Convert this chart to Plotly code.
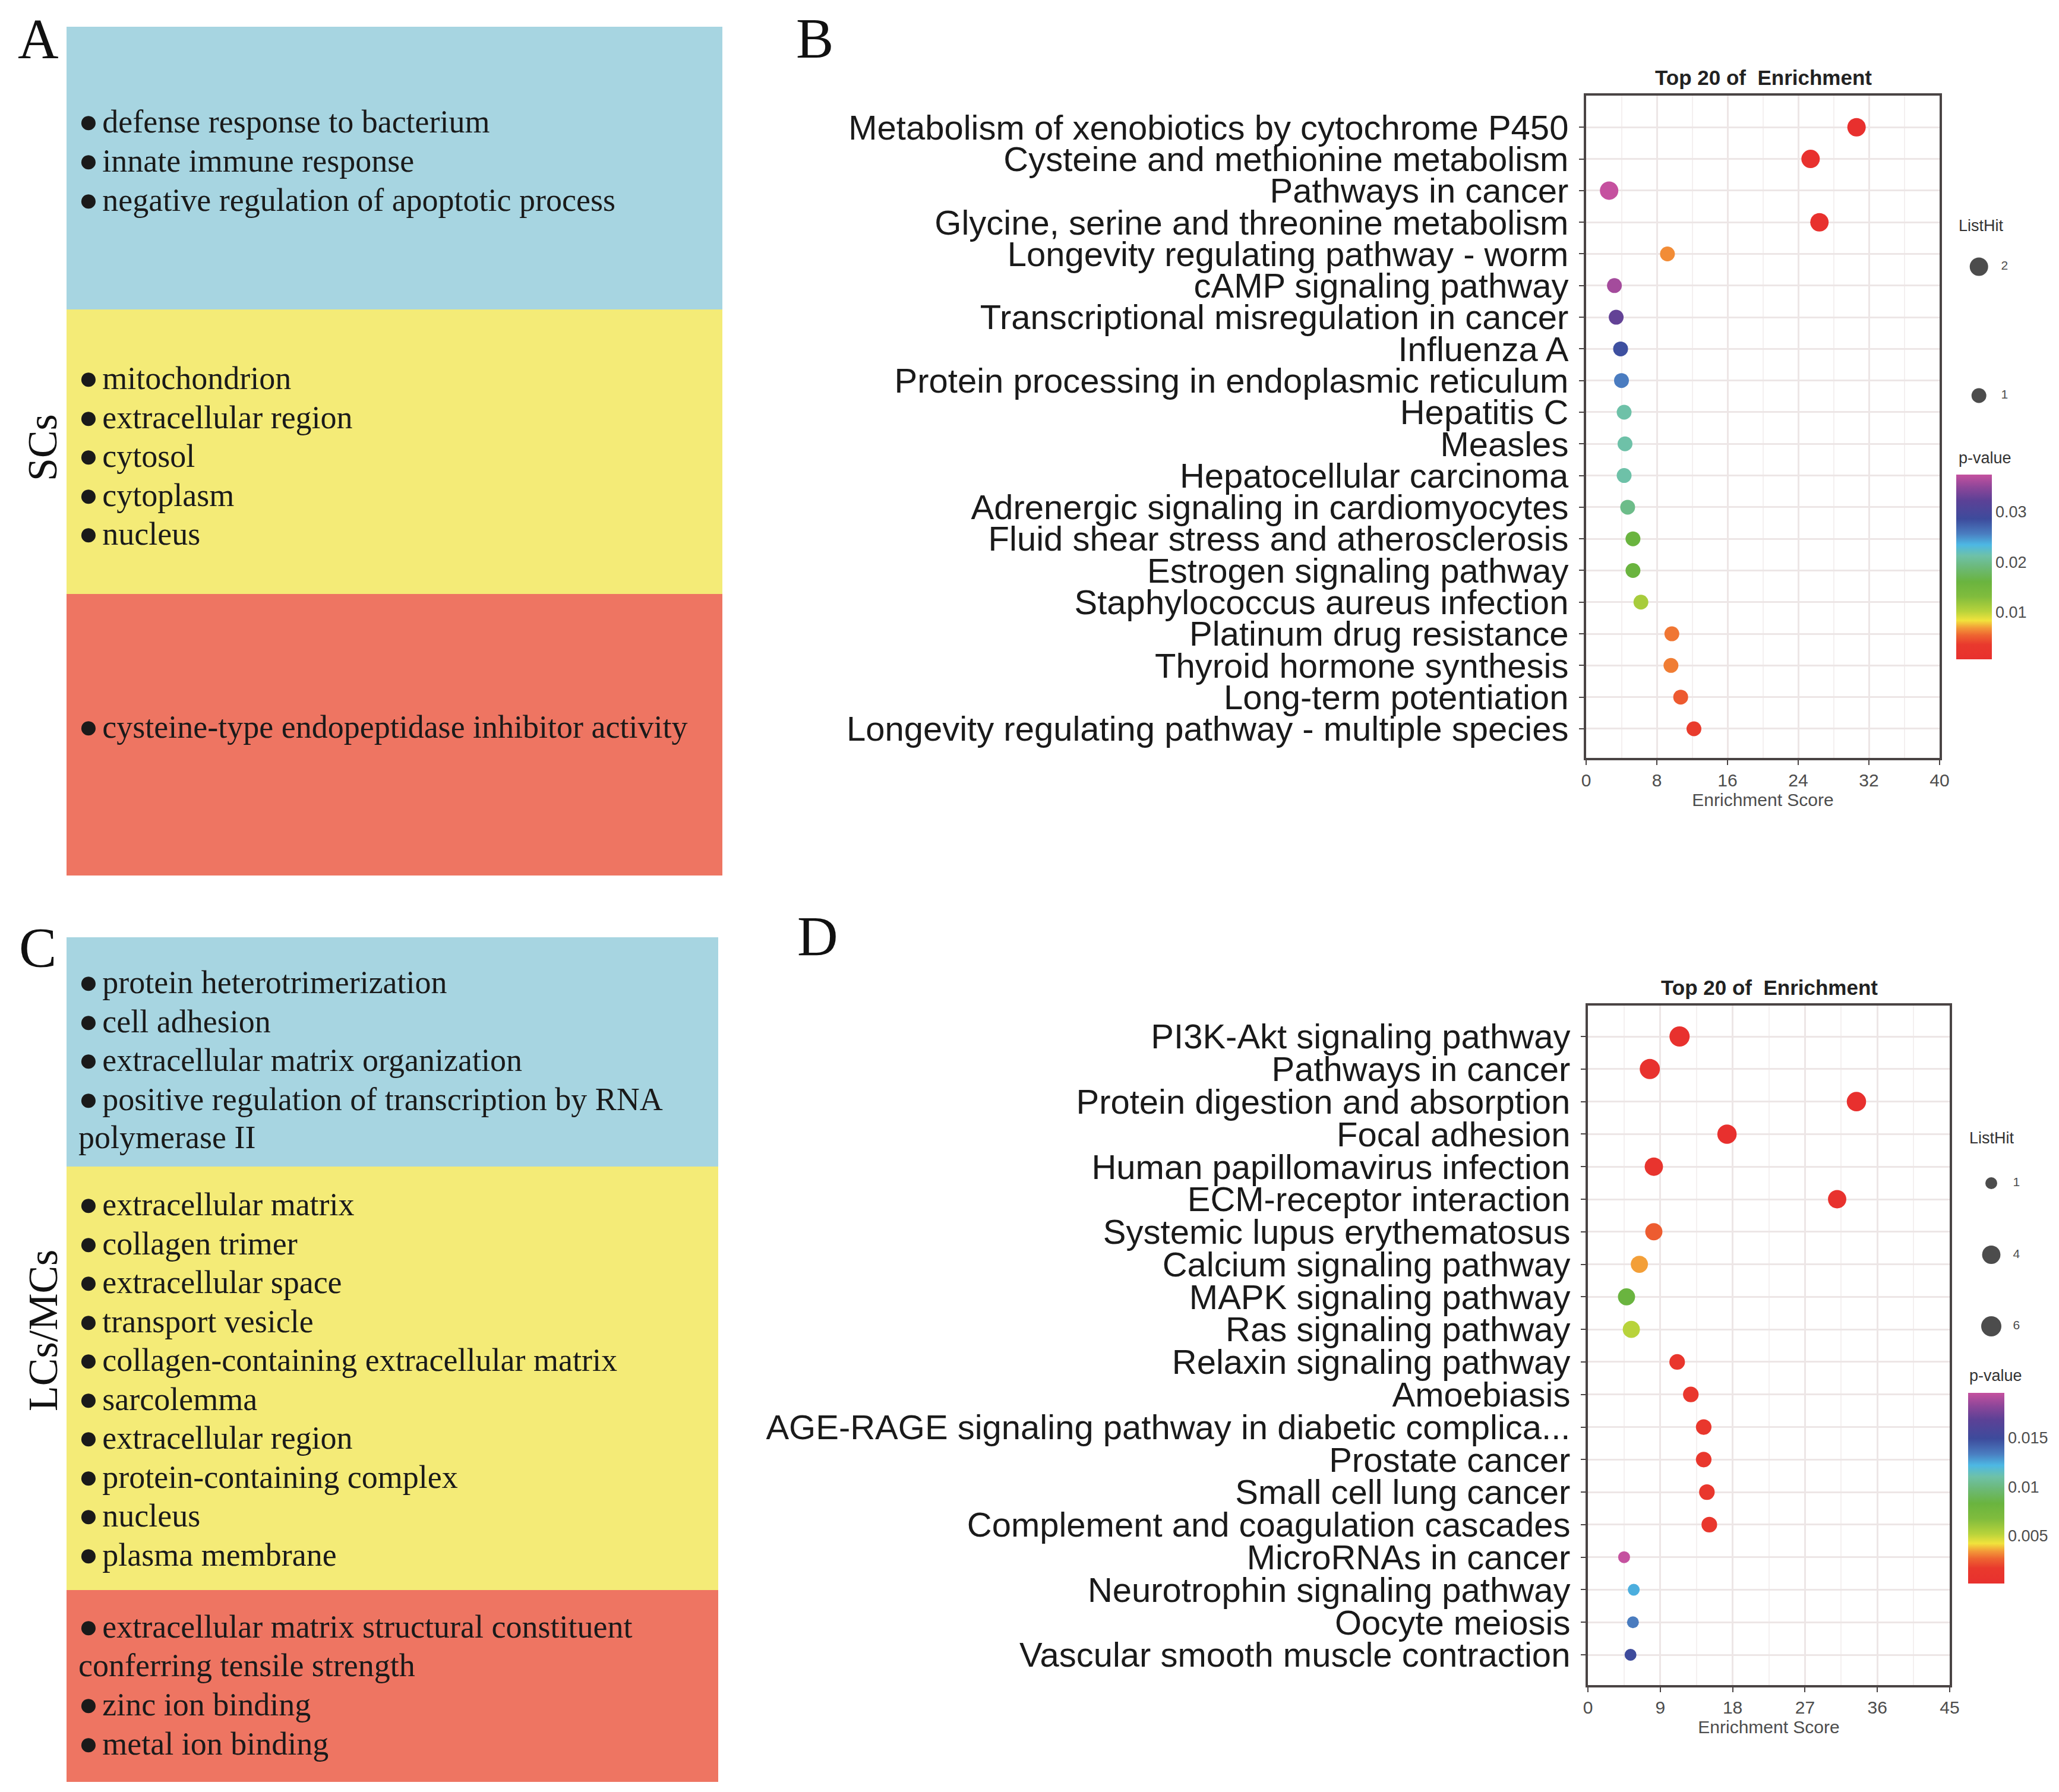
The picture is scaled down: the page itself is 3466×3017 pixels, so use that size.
import plotly.graph_objects as go

W, H = 3466, 3017

# ---------------- DATA ----------------
# Panel A (SCs) GO terms
A_bp = ["defense response to bacterium", "innate immune response",
        "negative regulation of apoptotic process"]
A_cc = ["mitochondrion", "extracellular region", "cytosol", "cytoplasm", "nucleus"]
A_mf = ["cysteine-type endopeptidase inhibitor activity"]

# Panel C (LCs/MCs) GO terms
C_bp = ["protein heterotrimerization", "cell adhesion",
        "extracellular matrix organization",
        "positive regulation of transcription by RNA<br>polymerase II"]
C_cc = ["extracellular matrix", "collagen trimer", "extracellular space",
        "transport vesicle", "collagen-containing extracellular matrix",
        "sarcolemma", "extracellular region", "protein-containing complex",
        "nucleus", "plasma membrane"]
C_mf = ["extracellular matrix structural constituent<br>conferring tensile strength",
        "zinc ion binding", "metal ion binding"]

# Panel B (SCs KEGG)
B_terms = ["Metabolism of xenobiotics by cytochrome P450",
           "Cysteine and methionine metabolism",
           "Pathways in cancer",
           "Glycine, serine and threonine metabolism",
           "Longevity regulating pathway - worm",
           "cAMP signaling pathway",
           "Transcriptional misregulation in cancer",
           "Influenza A",
           "Protein processing in endoplasmic reticulum",
           "Hepatitis C",
           "Measles",
           "Hepatocellular carcinoma",
           "Adrenergic signaling in cardiomyocytes",
           "Fluid shear stress and atherosclerosis",
           "Estrogen signaling pathway",
           "Staphylococcus aureus infection",
           "Platinum drug resistance",
           "Thyroid hormone synthesis",
           "Long-term potentiation",
           "Longevity regulating pathway - multiple species"]
B_score = [30.6, 25.4, 2.6, 26.4, 9.2, 3.2, 3.4, 3.9, 4.0, 4.3,
           4.4, 4.3, 4.7, 5.3, 5.3, 6.2, 9.7, 9.6, 10.7, 12.2]
B_hit = [2, 2, 2, 2, 1, 1, 1, 1, 1, 1, 1, 1, 1, 1, 1, 1, 1, 1, 1, 1]
B_p = [0.0005, 0.0009, 0.0375, 0.0008, 0.0064, 0.0360, 0.0327, 0.0283,
       0.0257, 0.0212, 0.0212, 0.0212, 0.0197, 0.0160, 0.0160, 0.0110,
       0.0058, 0.0060, 0.0049, 0.0036]
B_ticks = [0, 8, 16, 24, 32, 40]
B_cbar_ticks = [0.01, 0.02, 0.03]
B_hit_legend = [2, 1]

# Panel D (LCs/MCs KEGG)
D_terms = ["PI3K-Akt signaling pathway",
           "Pathways in cancer",
           "Protein digestion and absorption",
           "Focal adhesion",
           "Human papillomavirus infection",
           "ECM-receptor interaction",
           "Systemic lupus erythematosus",
           "Calcium signaling pathway",
           "MAPK signaling pathway",
           "Ras signaling pathway",
           "Relaxin signaling pathway",
           "Amoebiasis",
           "AGE-RAGE signaling pathway in diabetic complica...",
           "Prostate cancer",
           "Small cell lung cancer",
           "Complement and coagulation cascades",
           "MicroRNAs in cancer",
           "Neurotrophin signaling pathway",
           "Oocyte meiosis",
           "Vascular smooth muscle contraction"]
D_score = [11.4, 7.7, 33.4, 17.3, 8.2, 31.0, 8.2, 6.4, 4.8, 5.4,
           11.1, 12.8, 14.4, 14.4, 14.8, 15.1, 4.5, 5.7, 5.6, 5.3]
D_hit = [6, 6, 5, 5, 4, 4, 3, 3, 3, 3, 2, 2, 2, 2, 2, 2, 1, 1, 1, 1]
D_p = [0.0003, 0.0005, 0.00014, 0.0002, 0.0009, 0.0004, 0.0025, 0.0035,
       0.0083, 0.0052, 0.0012, 0.0013, 0.0013, 0.0013, 0.0014, 0.0014,
       0.0196, 0.0124, 0.0134, 0.0150]
D_ticks = [0, 9, 18, 27, 36, 45]
D_cbar_ticks = [0.005, 0.01, 0.015]
D_hit_legend = [1, 4, 6]

# ---------------- STYLE ----------------
CS = [[0.00, '#E8302E'], [0.08, '#E9392D'], [0.13, '#EE6431'],
      [0.17, '#F39A38'], [0.21, '#F1E33C'], [0.26, '#B8D33B'],
      [0.34, '#80BC3D'], [0.42, '#6AB43F'], [0.50, '#6CB97A'],
      [0.56, '#6EC1A8'], [0.62, '#4DB8E4'], [0.68, '#4A7DC0'],
      [0.76, '#3D4B9C'], [0.86, '#5C4196'], [0.93, '#8C4699'],
      [1.00, '#C5519F']]

BLUE, YELLOW, RED = '#A7D5E1', '#F4EB77', '#EE7562'
GRID, MGRID, AXC = '#EDE6E6', '#F4F0F0', '#4A4444'
LABC, GRAY = '#1A1A1A', '#4D4D4D'
SANS, SERIF = 'Liberation Sans, Arial', 'Liberation Serif, Times New Roman'


def px(x):
    return x / W


def py(y):
    return 1 - y / H


def sizes(vals, dmin, dmax, vmin, vmax):
    out = []
    for v in vals:
        t = 0 if vmax == vmin else (v - vmin) / (vmax - vmin)
        out.append(dmin + (dmax - dmin) * t ** 0.5)
    return out


fig = go.Figure()
shapes, ann = [], []

# ---------------- Panels A & C (boxes + text) ----------------
def box(x0, y0, x1, y1, c):
    shapes.append(dict(type='rect', xref='paper', yref='paper', x0=px(x0), x1=px(x1),
                       y0=py(y1), y1=py(y0), fillcolor=c, line=dict(width=0), layer='below'))


def term_lines(terms, y0, step):
    y = y0
    for t in terms:
        parts = t.split('<br>')
        for i, part in enumerate(parts):
            if i == 0:
                txt = ('<span style="font-size:56px">●</span>'
                       '<span style="font-size:26px"> </span>' + part)
            else:
                txt = part
            ann.append(dict(text=txt, xref='paper', yref='paper', x=px(122), y=py(y),
                            xanchor='left', yanchor='middle', showarrow=False,
                            font=dict(family=SERIF, size=54, color=LABC)))
            y += step


box(104, 37, 1208, 513, BLUE)
box(104, 513, 1208, 992, YELLOW)
box(104, 992, 1208, 1466, RED)
term_lines(A_bp, 196, 66)
term_lines(A_cc, 628, 65.5)
term_lines(A_mf, 1215, 65.5)

box(104, 1570, 1201, 1956, BLUE)
box(104, 1956, 1201, 2669, YELLOW)
box(104, 2669, 1201, 2992, RED)
term_lines(C_bp, 1645, 65.5)
term_lines(C_cc, 2019, 65.5)
term_lines(C_mf, 2730, 65.5)

for letter, x, y in [('A', 20, 58), ('B', 1330, 57), ('C', 22, 1588), ('D', 1332, 1569)]:
    ann.append(dict(text=letter, xref='paper', yref='paper', x=px(x), y=py(y),
                    xanchor='left', yanchor='middle', showarrow=False,
                    font=dict(family=SERIF, size=95, color='#111')))
for lab, yc in [('SCs', 745), ('LCs/MCs', 2232)]:
    ann.append(dict(text=lab, xref='paper', yref='paper', x=px(64), y=py(yc),
                    xanchor='center', yanchor='middle', showarrow=False, textangle=-90,
                    font=dict(family=SERIF, size=70, color='#111')))

# ---------------- Panels B & D (dot plots) ----------------
def dot_axes(xn, yn, xl, xr, yt, yb, ticks, terms, ybot_pad, ytop_pad):
    xa = dict(domain=[px(xl), px(xr)], anchor=yn, range=[ticks[0], ticks[-1]],
              tickmode='array', tickvals=ticks, showgrid=True, gridcolor=GRID, gridwidth=3,
              minor=dict(dtick=(ticks[1] - ticks[0]) / 2, showgrid=True,
                         gridcolor=MGRID, gridwidth=2, ticks=''),
              showline=True, mirror=True, linecolor=AXC, linewidth=4,
              ticks='outside', ticklen=8, tickwidth=2, tickcolor=AXC,
              tickfont=dict(family=SANS, size=30, color=GRAY), zeroline=False,
              title=dict(text='Enrichment Score', standoff=6,
                         font=dict(family=SANS, size=30, color=GRAY)),
              automargin=False, fixedrange=True)
    ya = dict(domain=[py(yb), py(yt)], anchor=xn, type='category',
              categoryorder='array', categoryarray=terms,
              tickmode='array', tickvals=terms, ticktext=terms,
              range=[len(terms) - 1 + ybot_pad, -ytop_pad],
              showgrid=True, gridcolor=GRID, gridwidth=3,
              showline=True, mirror=True, linecolor=AXC, linewidth=4,
              ticks='outside', ticklen=8, tickwidth=2, tickcolor=AXC,
              ticklabelstandoff=6,
              tickfont=dict(family=SANS, size=58, color=LABC),
              automargin=False, fixedrange=True)
    return xa, ya


xa1, ya1 = dot_axes('x', 'y', 2662, 3257, 153, 1268, B_ticks, B_terms, 0.92, 1.0)
xa2, ya2 = dot_axes('x2', 'y2', 2665, 3274, 1685, 2829, D_ticks, D_terms, 0.93, 0.95)

B_DMIN, B_DMAX = 25, 31
D_DMIN, D_DMAX = 20, 34

fig.add_trace(go.Scatter(
    x=B_score, y=B_terms, mode='markers', xaxis='x', yaxis='y', showlegend=False,
    marker=dict(size=sizes(B_hit, B_DMIN, B_DMAX, min(B_hit), max(B_hit)), color=B_p,
                colorscale=CS, cmin=min(B_p), cmax=max(B_p), opacity=1, line=dict(width=0),
                colorbar=dict(x=px(3285), xanchor='left', y=py(791), yanchor='top',
                              len=311, lenmode='pixels', thickness=60, thicknessmode='pixels',
                              xpad=0, ypad=0, outlinewidth=0, tickvals=B_cbar_ticks,
                              ticks='', tickfont=dict(family=SANS, size=27, color=GRAY)))))

fig.add_trace(go.Scatter(
    x=D_score, y=D_terms, mode='markers', xaxis='x2', yaxis='y2', showlegend=False,
    marker=dict(size=sizes(D_hit, D_DMIN, D_DMAX, min(D_hit), max(D_hit)), color=D_p,
                colorscale=CS, cmin=min(D_p), cmax=max(D_p), opacity=1, line=dict(width=0),
                colorbar=dict(x=px(3305), xanchor='left', y=py(2337), yanchor='top',
                              len=321, lenmode='pixels', thickness=61, thicknessmode='pixels',
                              xpad=0, ypad=0, outlinewidth=0, tickvals=D_cbar_ticks,
                              ticks='', tickfont=dict(family=SANS, size=27, color=GRAY)))))

# size legends drawn on hidden helper axes
def size_legend(xn, yn, xl, xr, ytop, ybot, vals, allvals, dmin, dmax, dot_x, lab_x):
    n = len(vals)
    hidden = dict(visible=False, fixedrange=True)
    lay = {
        xn.replace('x', 'xaxis'): dict(domain=[px(xl), px(xr)], range=[0, 1], anchor=yn, **hidden),
        yn.replace('y', 'yaxis'): dict(domain=[py(ybot), py(ytop)], range=[n - 1, 0], anchor=xn, **hidden),
    }
    idx = list(range(n))
    fig.add_trace(go.Scatter(x=[dot_x] * n, y=idx, xaxis=xn, yaxis=yn, mode='markers',
                             showlegend=False, cliponaxis=False, hoverinfo='skip',
                             marker=dict(color='#000000', line=dict(width=0),
                                         size=sizes(vals, dmin, dmax, min(allvals), max(allvals)))))
    fig.add_trace(go.Scatter(x=[lab_x] * n, y=idx, xaxis=xn, yaxis=yn, mode='text',
                             text=[str(v) for v in vals], showlegend=False, cliponaxis=False,
                             hoverinfo='skip', textposition='middle center',
                             textfont=dict(family=SANS, size=21, color=GRAY)))
    return lay


lay3 = size_legend('x3', 'y3', 3280, 3440, 441, 658, B_hit_legend, B_hit, B_DMIN, B_DMAX, 0.27, 0.54)
lay4 = size_legend('x4', 'y4', 3300, 3460, 1984, 2225, D_hit_legend, D_hit, D_DMIN, D_DMAX, 0.275, 0.54)

for t, x, y in [('ListHit', 3287, 372), ('p-value', 3287, 763),
                ('ListHit', 3305, 1908), ('p-value', 3305, 2308)]:
    ann.append(dict(text=t, xref='paper', yref='paper', x=px(x), y=py(y), xanchor='left',
                    yanchor='middle', showarrow=False,
                    font=dict(family=SANS, size=27, color='#333333')))

for xc, yc in [(2960, 123), (2970, 1654)]:
    ann.append(dict(text='<b>Top 20 of\u00a0 Enrichment</b>', xref='paper', yref='paper',
                    x=px(xc), y=py(yc), xanchor='center', yanchor='middle', showarrow=False,
                    font=dict(family=SANS, size=35, color='#222222')))

fig.update_layout(width=W, height=H, margin=dict(l=0, r=0, t=0, b=0, autoexpand=False),
                  paper_bgcolor='white', plot_bgcolor='white', showlegend=False,
                  xaxis=xa1, yaxis=ya1, xaxis2=xa2, yaxis2=ya2,
                  shapes=shapes, annotations=ann, **lay3, **lay4)

fig.write_html('out.html')
